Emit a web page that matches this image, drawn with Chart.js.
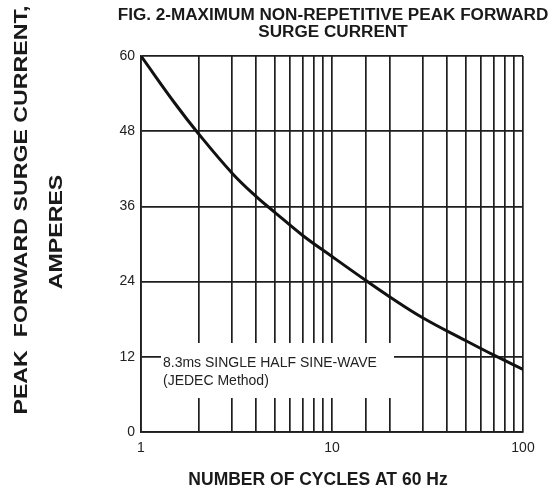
<!DOCTYPE html>
<html>
<head>
  <title>Fig. 2 - Peak Forward Surge Current</title>
  <script src="https://cdn.jsdelivr.net/npm/chart.js"></script>
  <style>
    body { margin: 0; background: #fff; }
  </style>
</head>
<body>
  <canvas id="surgeChart" width="552" height="495"></canvas>

  <script>
    // values
    const cycles = [1, 1.5, 2, 3, 4, 5, 7, 10, 15, 20, 30, 50, 70, 100];
    const amps = [60, 52.5, 47.6, 41.3, 37.6, 35.1, 31.4, 28.0, 24.2, 21.6, 18.2, 14.6, 12.3, 10];
    const xTickLabels = [1, 10, 100];
    const yTicks = [0, 12, 24, 36, 48, 60];

    const titleLines = ['FIG. 2-MAXIMUM NON-REPETITIVE PEAK FORWARD', 'SURGE CURRENT'];
    const yTitleLines = ['PEAK  FORWARD SURGE CURRENT,', 'AMPERES'];
    const xTitle = 'NUMBER OF CYCLES AT 60 Hz';
    const noteLines = ['8.3ms SINGLE HALF SINE-WAVE', '(JEDEC Method)'];

    const FONT = "'Liberation Sans', Arial, sans-serif";

    const labelsPlugin = {
      id: 'labels',
      beforeDatasetsDraw(chart) {
        const ctx = chart.ctx;
        const area = chart.chartArea;
        ctx.save();
        // white box behind the note, it hides the grid
        ctx.fillStyle = '#fff';
        ctx.fillRect(area.left + 20, area.bottom - 89, 233, 55);
        ctx.fillStyle = '#222';
        ctx.font = '14px ' + FONT;
        ctx.textAlign = 'left';
        ctx.textBaseline = 'middle';
        ctx.fillText(noteLines[0], area.left + 22, area.bottom - 69);
        ctx.fillText(noteLines[1], area.left + 22, area.bottom - 51);
        ctx.restore();
      },
      afterDraw(chart) {
        const ctx = chart.ctx;
        ctx.save();
        ctx.fillStyle = '#1a1a1a';
        ctx.textAlign = 'center';
        ctx.textBaseline = 'middle';

        // main title
        ctx.font = 'bold 16px ' + FONT;
        titleLines.forEach(function(line, i) {
          ctx.save();
          ctx.translate(333, 16 + i * 17);
          ctx.scale(1.07, 1);
          ctx.fillText(line, 0, 0);
          ctx.restore();
        });

        // x axis title
        ctx.font = 'bold 17.5px ' + FONT;
        ctx.fillText(xTitle, 318, 480);

        // y axis title, two rotated lines
        ctx.font = 'bold 19px ' + FONT;
        const yPos = [[22, 210], [57, 232]];
        yTitleLines.forEach(function(line, i) {
          ctx.save();
          ctx.translate(yPos[i][0], yPos[i][1]);
          ctx.rotate(-Math.PI / 2);
          ctx.scale(1.22, 1);
          ctx.fillText(line, 0, 0);
          ctx.restore();
        });
        ctx.restore();
      }
    };

    const ctx = document.getElementById('surgeChart').getContext('2d');
    const chart = new Chart(ctx, {
      type: 'line',
      data: {
        datasets: [{
          data: cycles.map(function(c, i) { return { x: c, y: amps[i] }; }),
          borderColor: '#111',
          borderWidth: 3,
          pointRadius: 0,
          tension: 0.4,
          fill: false
        }]
      },
      options: {
        responsive: false,
        animation: false,
        devicePixelRatio: 1,
        layout: { padding: { left: 0, top: 56, right: 29, bottom: 33 } },
        plugins: {
          legend: { display: false },
          tooltip: { enabled: false }
        },
        scales: {
          x: {
            type: 'logarithmic',
            min: 1,
            max: 100,
            afterFit: function(scale) { scale.height = 30; },
            grid: { color: '#1e1e1e', lineWidth: 1.7, drawTicks: false },
            border: { color: '#1e1e1e', width: 1.7 },
            ticks: {
              autoSkip: false,
              maxRotation: 0,
              padding: 8,
              color: '#222',
              font: { family: FONT, size: 14 },
              callback: function(value) {
                return xTickLabels.includes(value) ? String(value) : '';
              }
            }
          },
          y: {
            min: 0,
            max: 60,
            afterFit: function(scale) { scale.width = 141; },
            afterBuildTicks: function(scale) {
              scale.ticks = yTicks.map(function(v) { return { value: v }; });
            },
            grid: { color: '#1e1e1e', lineWidth: 1.7, drawTicks: false },
            border: { color: '#1e1e1e', width: 1.7 },
            ticks: {
              padding: 6,
              color: '#222',
              font: { family: FONT, size: 14 }
            }
          }
        }
      },
      plugins: [labelsPlugin]
    });
  </script>
</body>
</html>
